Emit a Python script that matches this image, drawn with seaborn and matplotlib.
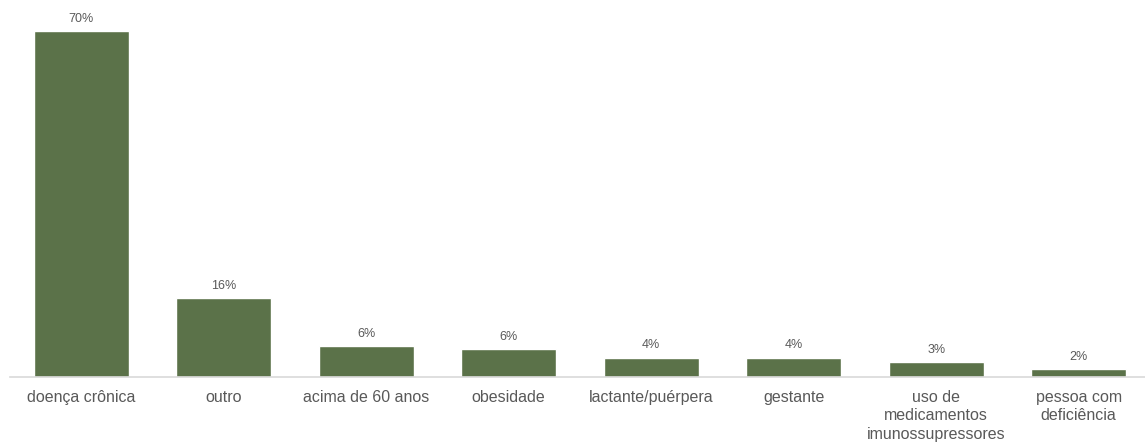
import matplotlib
matplotlib.use("Agg")
import matplotlib.pyplot as plt
import seaborn as sns
import pandas as pd

categories = [
    "doença crônica",
    "outro",
    "acima de 60 anos",
    "obesidade",
    "lactante/puérpera",
    "gestante",
    "uso de\nmedicamentos\nimunossupressores",
    "pessoa com\ndeficiência",
]
values = [70.0, 15.9, 6.2, 5.6, 3.9, 3.9, 3.0, 1.6]

df = pd.DataFrame({"categoria": categories, "pct": values})

sns.set_theme(style="white")
plt.rcParams["font.family"] = ["Liberation Sans", "DejaVu Sans"]

W, H = 1145, 444
fig = plt.figure(figsize=(W / 100, H / 100), dpi=100)
left_px, right_px, base_px, top_px = 10, 1150, 377, 0
ax = fig.add_axes([left_px / W, (H - base_px) / H,
                   (right_px - left_px) / W, (base_px - top_px) / H])

bar_color = "#5B7249"
text_color = "#595959"

sns.barplot(data=df, x="categoria", y="pct", color=bar_color,
            width=0.67, saturation=1, ax=ax)

for i, v in enumerate(values):
    ax.annotate(f"{round(v):d}%", (i, v), xytext=(0, 4.5),
                textcoords="offset points", ha="center", va="bottom",
                fontsize=9, color=text_color)

ax.set_xlim(-0.5, 7.5)
ax.set_ylim(0, 76.3)
ax.set_xlabel("")
ax.set_ylabel("")
ax.set_yticks([])
ax.tick_params(axis="x", length=0, pad=9, labelsize=11.5, labelcolor=text_color)
for lbl in ax.get_xticklabels():
    lbl.set_linespacing(1.32)

for side in ["top", "left", "right"]:
    ax.spines[side].set_visible(False)
ax.spines["bottom"].set_color("#D9D9D9")
ax.spines["bottom"].set_linewidth(1.2)

fig.savefig("out.png", dpi=100, facecolor="white")
